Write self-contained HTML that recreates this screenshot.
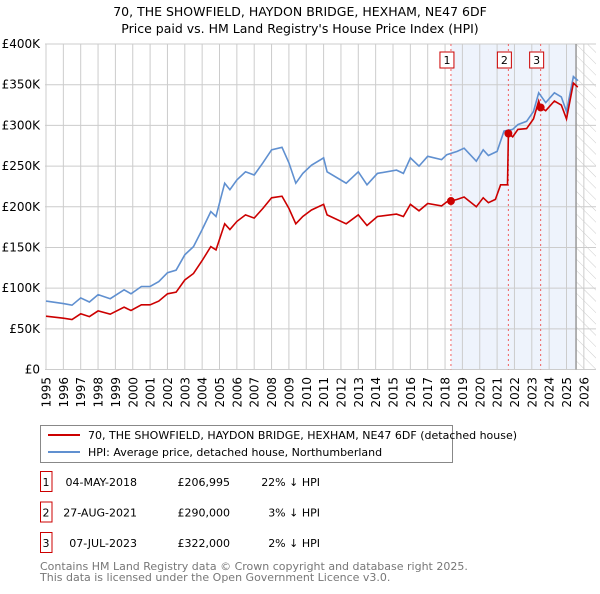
<!DOCTYPE html>
<html><head><meta charset="utf-8"><style>
body{margin:0;background:#fff;font-family:"DejaVu Sans","Liberation Sans",sans-serif;}
svg text{font-family:"DejaVu Sans","Liberation Sans",sans-serif;}
</style></head><body>
<svg id="chart" width="600" height="590" xmlns="http://www.w3.org/2000/svg">
<defs><pattern id="hatch" width="8" height="8" patternUnits="userSpaceOnUse" patternTransform="rotate(-45)"><line x1="0" y1="0" x2="0" y2="8" stroke="#ccc" stroke-width="1"/></pattern></defs>
<text x="300" y="16" text-anchor="middle" font-size="12.5">70, THE SHOWFIELD, HAYDON BRIDGE, HEXHAM, NE47 6DF</text>
<text x="300" y="33" text-anchor="middle" font-size="12.5">Price paid vs. HM Land Registry's House Price Index (HPI)</text>
<g id="plot"></g>
<rect x="40.5" y="425.5" width="412" height="37" fill="#fff" stroke="#888"/>
<line x1="48" y1="435" x2="80" y2="435" stroke="#cc0000" stroke-width="2"/>
<text x="88" y="439" font-size="11">70, THE SHOWFIELD, HAYDON BRIDGE, HEXHAM, NE47 6DF (detached house)</text>
<line x1="48" y1="452" x2="80" y2="452" stroke="#6090d0" stroke-width="2"/>
<text x="88" y="456" font-size="11">HPI: Average price, detached house, Northumberland</text>
<g id="table" font-size="11"></g>
<text x="40" y="570" font-size="11" fill="#777">Contains HM Land Registry data © Crown copyright and database right 2025.</text>
<text x="40" y="581" font-size="11" fill="#777">This data is licensed under the Open Government Licence v3.0.</text>
</svg>
<script>
const hpiYears=[1995,1996,1996.5,1997,1997.5,1998,1998.7,1999.5,1999.9,2000.5,2001,2001.5,2002,2002.5,2003,2003.5,2004,2004.5,2004.8,2005.3,2005.6,2006,2006.5,2007,2007.5,2008,2008.6,2009,2009.4,2009.8,2010.3,2011,2011.2,2012.3,2013,2013.5,2014.1,2015.2,2015.6,2016,2016.5,2017,2017.8,2018.1,2018.7,2019.1,2019.8,2020.2,2020.5,2021,2021.4,2021.9,2022.2,2022.7,2023.1,2023.4,2023.8,2024.3,2024.7,2025,2025.4,2025.65];
const hpiValues=[84,81,79,88,83,92,87,98,93,102,102,108,119,122,141,151,172,194,188,229,221,233,243,239,254,270,273,254,229,241,251,260,243,229,243,227,241,245,241,260,250,262,258,264,268,272,256,270,263,268,293,295,301,305,317,340,328,340,335,317,360,355];
const redYears=[1995,1996,1996.5,1997,1997.5,1998,1998.7,1999.5,1999.9,2000.5,2001,2001.5,2002,2002.5,2003,2003.5,2004,2004.5,2004.8,2005.3,2005.6,2006,2006.5,2007,2007.5,2008,2008.6,2009,2009.4,2009.8,2010.3,2011,2011.2,2012.3,2013,2013.5,2014.1,2015.2,2015.6,2016,2016.5,2017,2017.8,2018.1,2018.34,2018.7,2019.1,2019.8,2020.2,2020.5,2020.9,2021.2,2021.6,2021.65,2021.9,2022.2,2022.7,2023.1,2023.4,2023.51,2023.8,2024.3,2024.7,2025,2025.4,2025.65];
const redValues=[65.5,63,61.5,68.5,65,72,68,76.5,72.5,79.5,79.5,84,93,95,110,118,134,151,147,179,172,182,190,186,198,211,213,198,179,188,196,203,190,179,190,177,188,191,188,203,195,204,201,206,207,209,212,200,211,205,209,227,227,290,286,295,296,308,330,322,318,330,325,308,352,347];
const saleLabels=["1","2","3"];
const saleYears=[2018.34,2021.65,2023.51];
const saleValues=[206.995,290,322];
const saleDates=["04-MAY-2018","27-AUG-2021","07-JUL-2023"];
const salePrices=["£206,995","£290,000","£322,000"];
const salePcts=["22% ↓ HPI","3% ↓ HPI","2% ↓ HPI"];
const yTicks=[0,50,100,150,200,250,300,350,400];
const yTickLabels=["£0","£50K","£100K","£150K","£200K","£250K","£300K","£350K","£400K"];
const xTicks=[1995,1996,1997,1998,1999,2000,2001,2002,2003,2004,2005,2006,2007,2008,2009,2010,2011,2012,2013,2014,2015,2016,2017,2018,2019,2020,2021,2022,2023,2024,2025,2026];
const NS="http://www.w3.org/2000/svg";
const L=45,R=584,T=44,B=369.5;
const X=y=>46+(y-1995)*17.35;
const Y=v=>B-v*(B-T)/400;
const plot=document.getElementById('plot');
function mk(tag,attrs,parent){const e=document.createElementNS(NS,tag);for(const k in attrs)e.setAttribute(k,attrs[k]);(parent||plot).appendChild(e);return e;}
let e=mk('rect',{x:X(2018.34),y:T,width:X(2025.55)-X(2018.34),height:B-T,fill:'#eef3fc'});


e=mk('rect',{x:X(2025.55),y:T,width:R-X(2025.55)+12,height:B-T,fill:'url(#hatch)'});


xTicks.forEach(t=>{const g=mk('line',{x1:X(t),x2:X(t),y1:T,y2:B,stroke:'#ccc','stroke-width':1});


const tx=mk('text',{x:0,y:0,'text-anchor':'end','font-size':12,transform:'translate('+(X(t)+4.5)+',377) rotate(-90)'});tx.textContent=t;

});
yTicks.forEach((t,i)=>{const g=mk('line',{x1:L,x2:R+12,y1:Y(t),y2:Y(t),stroke:'#ccc','stroke-width':1});


const tx=mk('text',{x:40,y:Y(t)+4,'text-anchor':'end','font-size':12});tx.textContent=yTickLabels[i];

});
e=mk('line',{x1:X(2025.55),x2:X(2025.55),y1:T,y2:B,stroke:'#999','stroke-width':1.5});


saleYears.forEach((s,i)=>{const l=mk('line',{x1:X(s),x2:X(s),y1:T,y2:B,stroke:'#f06060','stroke-dasharray':'2,3','stroke-width':1});

});
const pts=(xs,vs)=>xs.map((x,i)=>X(x).toFixed(1)+','+Y(vs[i]).toFixed(1)).join(' ');
e=mk('polyline',{points:pts(hpiYears,hpiValues),fill:'none',stroke:'#6090d0','stroke-width':1.6});


e=mk('polyline',{points:pts(redYears,redValues),fill:'none',stroke:'#cc0000','stroke-width':1.6});


saleYears.forEach((s,i)=>{const c=mk('circle',{cx:X(s),cy:Y(saleValues[i]),r:4,fill:'#cc0000'});


const bx=mk('rect',{x:X(s)-11,y:52,width:14,height:16,fill:'#fff',stroke:'#cc0000'});


const tx=mk('text',{x:X(s)-4,y:64,'text-anchor':'middle','font-size':11});tx.textContent=saleLabels[i];

});
const tb=document.getElementById('table');
saleLabels.forEach((lab,i)=>{const cy=482+i*30.5;
const bx=mk('rect',{x:40.5,y:cy-10.5,width:11.5,height:20,fill:'#fff',stroke:'#cc0000'},tb);


const t=[[46,'middle',lab],[137,'end',saleDates[i]],[230,'end',salePrices[i]],[320,'end',salePcts[i]]];
t.forEach(([x,a,s])=>{const tx=mk('text',{x:x,y:cy+4,'text-anchor':a},tb);tx.textContent=s;

});});
</script>
</body></html>
